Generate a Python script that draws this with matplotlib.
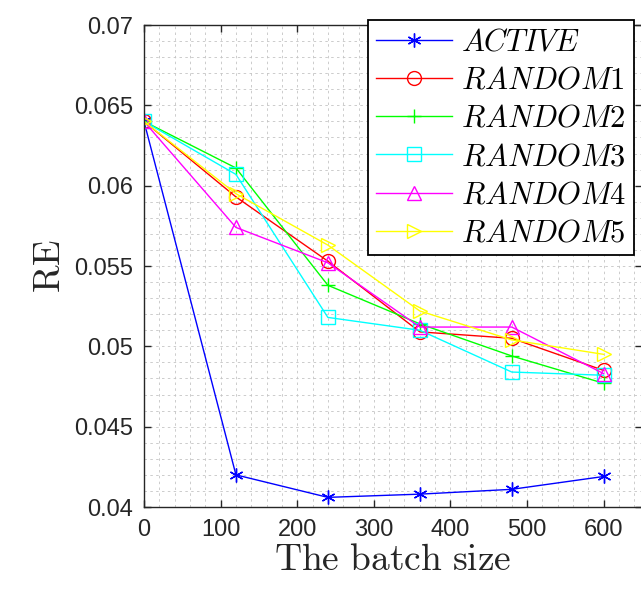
import numpy as np
import matplotlib
matplotlib.use('Agg')
import matplotlib.pyplot as plt
from matplotlib.ticker import MultipleLocator

plt.rcParams['mathtext.fontset'] = 'cm'

batch = [0, 120, 240, 360, 480, 600]
active = [0.0640, 0.0420, 0.0406, 0.0408, 0.0411, 0.0419]
random1 = [0.0640, 0.0593, 0.0553, 0.0509, 0.0505, 0.0485]
random2 = [0.0640, 0.0611, 0.0538, 0.0514, 0.0494, 0.0477]
random3 = [0.0640, 0.0607, 0.0518, 0.0510, 0.0484, 0.0482]
random4 = [0.0640, 0.0574, 0.0552, 0.0512, 0.0512, 0.0483]
random5 = [0.0640, 0.0595, 0.0563, 0.0522, 0.0504, 0.0495]

names = ['ACTIVE', 'RANDOM1', 'RANDOM2', 'RANDOM3', 'RANDOM4', 'RANDOM5']
series = [active, random1, random2, random3, random4, random5]
colors = ['#0000ff', '#ff0000', '#00ff00', '#00ffff', '#ff00ff', '#ffff00']
markers = [(6, 2, 0), 'o', '+', 's', '^', '>']

fig = plt.figure(figsize=(6.41, 5.90), dpi=100)
ax = fig.add_axes([144/641, 83/590, 498/641, 482/590])

for nm, ys, c, m in zip(names, series, colors, markers):
    ax.plot(batch, ys, color=c, marker=m, markersize=10, markerfacecolor='none',
            markeredgecolor=c, markeredgewidth=1.0, linewidth=1.0, label='$' + nm + '$')

ax.set_xlim(0, 650)
ax.set_ylim(0.04, 0.07)
ax.xaxis.set_major_locator(MultipleLocator(100))
ax.xaxis.set_minor_locator(MultipleLocator(20))
ax.yaxis.set_minor_locator(MultipleLocator(0.001))
ax.set_yticks([0.04, 0.045, 0.05, 0.055, 0.06, 0.065, 0.07])
ax.set_yticklabels(['0.04', '0.045', '0.05', '0.055', '0.06', '0.065', '0.07'])
ax.grid(which='both', color='#c4c4c4', linestyle=(0, (3, 4)), linewidth=0.6)
ax.set_axisbelow(True)
ax.tick_params(which='major', direction='in', length=5, width=1, top=True, right=True,
               labelsize=17, colors='#262626')
for lbl in ax.get_xticklabels() + ax.get_yticklabels():
    lbl.set_family('Liberation Sans')
ax.tick_params(axis='x', which='major', pad=9)
ax.tick_params(axis='y', which='major', pad=8)
ax.tick_params(which='minor', length=0)
for s in ax.spines.values():
    s.set_color('#262626')
    s.set_linewidth(1.0)

ax.set_xlabel(r'$\mathrm{The\ batch\ size}$', fontsize=27, color='#262626', labelpad=0)
ax.set_ylabel(r'$\mathrm{RE}$', fontsize=27, color='#262626', labelpad=4)

leg = ax.legend(loc='upper left', bbox_to_anchor=(368/641, 1 - 20/590),
                bbox_transform=fig.transFigure, fontsize=22, handlelength=2.5,
                fancybox=False, framealpha=1, edgecolor='black', borderaxespad=0,
                labelspacing=0.3, borderpad=0.25, handletextpad=0.3)
leg.get_frame().set_linewidth(1.3)

fig.savefig('out.png', dpi=100)
